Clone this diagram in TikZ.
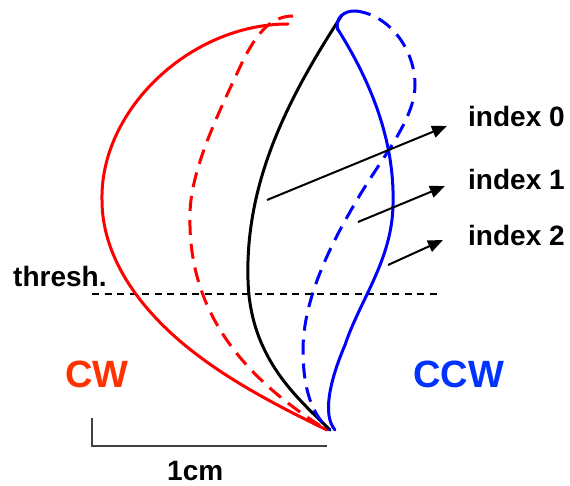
\documentclass[tikz,border=0pt]{standalone}
\usepackage{fontspec}
\setmainfont{Liberation Sans}
\usetikzlibrary{arrows.meta}
\definecolor{cwred}{RGB}{255,51,0}
\definecolor{ccwblue}{RGB}{0,51,255}
\definecolor{bargray}{RGB}{64,64,64}
\tikzset{
  curve/.style={line width=3pt, line cap=round, line join=round},
  dashcurve/.style={curve, line cap=butt, dash pattern=on 15pt off 9pt},
  lbl/.style={inner sep=0pt, anchor=base west, font=\fontsize{28}{30}\selectfont\bfseries},
  big/.style={inner sep=0pt, anchor=base west, font=\fontsize{38}{40}\selectfont\bfseries},
  ptr/.style={line width=2pt, -{Triangle[length=15pt,width=12pt]}},
}
\begin{document}
\begin{tikzpicture}[x=1pt,y=-1pt]
\useasboundingbox (0,0) rectangle (570,486);
% threshold
\draw[line width=1.6pt, dash pattern=on 7pt off 5.5pt] (92,294) coordinate (t1) -- (439,294) coordinate (t2);
% red solid
\draw[curve, red] (288,24) .. controls (190,24) and (100,110) .. (102,200)
  .. controls (102,265) and (150,320) .. (200,357)
  .. controls (240,387) and (290,412) .. (327,430);
% red dashed
\draw[dashcurve, red] (293,16) .. controls (270,16) and (255,35) .. (240,67)
  .. controls (220,110) and (190,170) .. (190,215)
  .. controls (188,300) and (230,370) .. (327,430);
% black
\draw[curve, black] (342,15) .. controls (290,95) and (245,180) .. (248,280)
  .. controls (250,360) and (300,400) .. (330,430);
% blue solid
\draw[curve, blue] (337,28) .. controls (370,80) and (395,140) .. (393,205)
  .. controls (392,260) and (360,300) .. (345,345)
  .. controls (330,380) and (322,415) .. (335,430);
% blue dashed
\draw[curve, blue] (338,30) .. controls (334,18) and (345,10) .. (356,11);
\draw[dashcurve, blue] (356,11) .. controls (390,15) and (415,50) .. (415,85)
  .. controls (415,120) and (380,160) .. (357,200)
  .. controls (330,245) and (303,300) .. (303,350)
  .. controls (303,400) and (318,420) .. (330,430);
% labels
\node[lbl] (thr) at (13,287) {thresh.};
\node[lbl] (i0) at (468,127) {index 0};
\node[lbl] (i1) at (468,190) {index 1};
\node[lbl] (i2) at (468,246) {index 2};
\node[big, text=cwred] (cw) at (65,387) {CW};
\node[big, text=ccwblue] (ccw) at (413,387) {CCW};
\node[lbl] (cm) at (167,480) {1cm};
% arrows
\coordinate (s0) at (267,200); \coordinate (e0) at (447,126);
\coordinate (s1) at (358,222); \coordinate (e1) at (445,186);
\coordinate (s2) at (388,265); \coordinate (e2) at (443,240);
\draw[ptr] (s0) -- (e0);
\draw[ptr] (s1) -- (e1);
\draw[ptr] (s2) -- (e2);
% scale bar
\coordinate (b1) at (92,418); \coordinate (b2) at (92,446); \coordinate (b3) at (327,446);
\draw[bargray, line width=2pt] (b1) -- (b2) -- (b3);
\end{tikzpicture}
\end{document}
